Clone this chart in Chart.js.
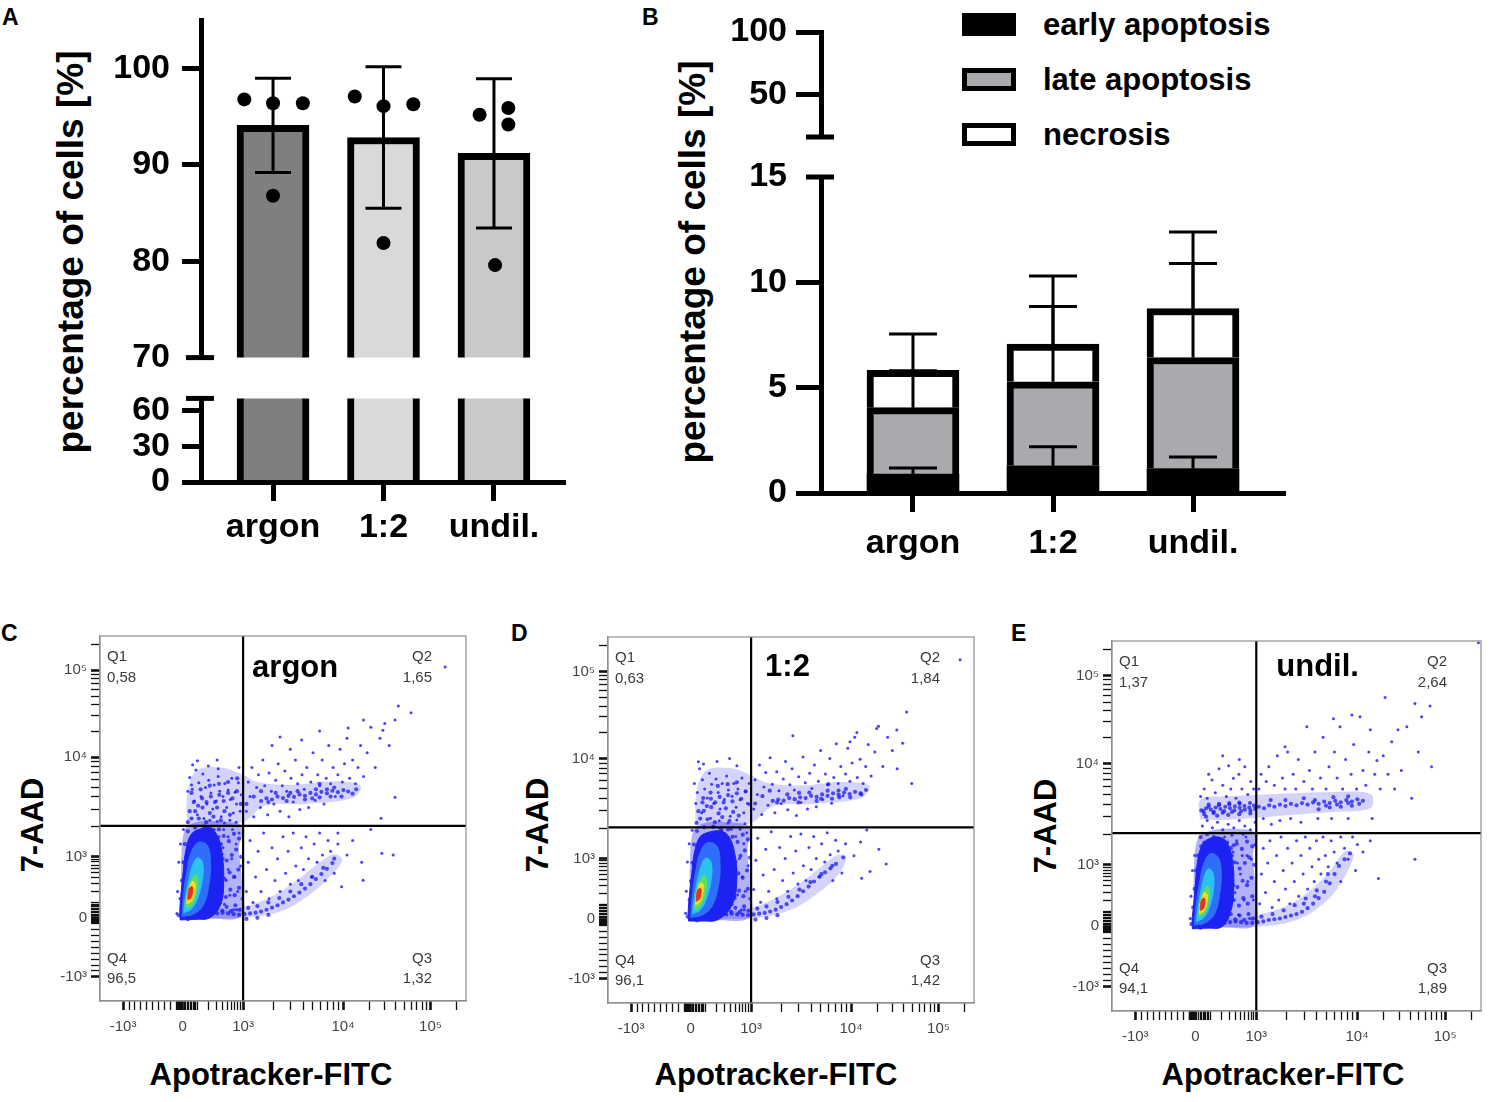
<!DOCTYPE html>
<html lang="en">
<head>
<meta charset="UTF-8">
<title>Viability, apoptosis and flow cytometry panels</title>
<script src="https://cdn.jsdelivr.net/npm/chart.js@4.4.1/dist/chart.umd.min.js"></script>
<style>
  html, body { margin: 0; padding: 0; background: #fff; }
  body { width: 1489px; height: 1102px; overflow: hidden; position: relative;
         font-family: 'Liberation Sans', Arial, Helvetica, sans-serif; }
  #figure { position: absolute; left: 0; top: 0; width: 1489px; height: 1102px; }
  canvas { position: absolute; }
  .lbl { position: absolute; white-space: nowrap; font-weight: bold; color: #000; line-height: 1; }
  .panel { font-size: 23px; }
  .ytitle { font-size: 37px; transform: translate(-50%, -50%) rotate(-90deg); }
  .ftitle { font-size: 31px; transform: translate(-50%, -50%); }
  .ftitle.rot { transform: translate(-50%, -50%) rotate(-90deg); }
  .legend-row { position: absolute; left: 962px; height: 23px; display: flex; align-items: center; }
  .swatch { width: 54px; height: 23px; box-sizing: border-box; border: 5px solid #000; }
  .legend-row span { margin-left: 27px; font-size: 31px; font-weight: bold; white-space: nowrap; }
</style>
</head>
<body>
<div id="figure">
  <!-- panel letters -->
  <div class="lbl panel" style="left:2px;top:6px">A</div>
  <div class="lbl panel" style="left:642px;top:6px">B</div>
  <div class="lbl panel" style="left:1px;top:622px">C</div>
  <div class="lbl panel" style="left:511px;top:622px">D</div>
  <div class="lbl panel" style="left:1011px;top:622px">E</div>

  <!-- axis titles of A and B -->
  <div class="lbl ytitle" style="left:70px;top:252px">percentage of cells [%]</div>
  <div class="lbl ytitle" style="left:692px;top:262px">percentage of cells [%]</div>

  <!-- legend of B -->
  <div class="legend-row" style="top:13px"><div class="swatch" style="background:#000"></div><span>early apoptosis</span></div>
  <div class="legend-row" style="top:68px"><div class="swatch" style="background:#aaaaae"></div><span>late apoptosis</span></div>
  <div class="legend-row" style="top:123px"><div class="swatch" style="background:#fff"></div><span>necrosis</span></div>

  <!-- axis titles of the flow plots -->
  <div class="lbl ftitle rot" style="left:32px;top:825px">7-AAD</div>
  <div class="lbl ftitle rot" style="left:537px;top:825px">7-AAD</div>
  <div class="lbl ftitle rot" style="left:1045px;top:826px">7-AAD</div>
  <div class="lbl ftitle" style="left:271px;top:1074px">Apotracker-FITC</div>
  <div class="lbl ftitle" style="left:776px;top:1074px">Apotracker-FITC</div>
  <div class="lbl ftitle" style="left:1283px;top:1074px">Apotracker-FITC</div>
</div>

<script>
// ---------- data ----------
const categories = ['argon', '1:2', 'undil.'];

// A: viable cells
const viableMean = [94.1, 92.85, 91.2];
const viableSD = [4.9, 7.35, 7.75];
const viableReplicates = [
  [96.8, 96.4, 96.4, 86.8],
  [97.1, 96.1, 96.3, 81.9],
  [95.2, 95.9, 94.2, 79.6]
];
const aTicksUpper = [70, 80, 90, 100];
const aTicksLower = [0, 30, 60];

// B: dead cell fractions
const earlyApoptosis = [0.9, 1.29, 1.16];
const earlySD = [0.29, 0.9, 0.55];
const lateApoptosis = [3.15, 3.99, 5.27];
const lateSD = [1.75, 3.57, 4.46];
const necrosis = [1.77, 1.79, 2.33];
const necrosisSD = [1.73, 3.23, 3.63];
const bTicksUpper = [50, 100];
const bTicksLower = [0, 5, 10, 15];

// C-E: flow plots, values in display units (0-1000) of the biexponential axes
const flowTickValues = [-1000, 0, 1000, 10000, 100000];
const flowTickLabels = ['-10³', '0', '10³', '10⁴', '10⁵'];
const quadrantsC = ['0,58', '1,65', '1,32', '96,5'];   // Q1, Q2, Q3, Q4
const quadrantsD = ['0,63', '1,84', '1,42', '96,1'];
const quadrantsE = ['1,37', '2,64', '1,89', '94,1'];
const gateC = [391, 480];
const gateD = [391, 480];
const gateE = [391, 481];

const cSparse = [
  [245,612],[252,580],[262,633],[270,598],[276,560],[281,622],[288,585],[292,540],[297,605],[303,570],[308,526],[312,592],
  [318,548],[323,615],[327,575],[331,505],[336,560],[341,596],[346,530],[350,578],[356,552],[360,610],[364,515],[369,572],
  [373,540],[378,598],[383,520],[386,565],[258,548],[266,510],[284,500],[300,495],[320,492],[340,488],[355,495],[372,490],
  [240,575],[253,647],[296,644],[323,636],[250,592],[266,658],[320,660],[380,640],
  [400,520],[405,600],[410,560],[415,640],[420,505],[428,585],[433,620],[438,530],[445,660],[450,590],[458,510],[462,625],
  [468,575],[475,540],[480,605],[487,650],[492,520],[498,590],[505,630],[510,575],[516,505],[522,610],[528,545],[534,660],
  [540,595],[546,525],[552,620],[558,580],[565,640],[570,530],[576,600],[582,680],[588,550],[595,620],[600,590],[607,660],
  [612,540],[618,610],[625,700],[630,595],[637,640],[643,560],[650,620],[656,690],[662,600],[668,650],[675,720],[682,610],
  [690,660],[698,595],[705,640],[712,700],[720,615],[730,680],[740,750],[752,640],[765,720],[778,760],[790,700],[806,770],
  [815,808],[470,700],[520,690],[551,715],[492,723],[600,740],[678,748],[720,770],[773,742],[768,501],[806,558],[943,915],
  [850,790],
  [400,300],[405,380],[410,440],[418,270],[425,340],[432,410],[440,300],[447,460],[455,360],[462,280],[470,420],[478,330],
  [485,390],[492,300],[500,450],[507,350],[514,410],[520,320],[528,460],[535,370],[542,330],[550,420],[556,360],[563,450],
  [570,390],[578,340],[585,430],[593,380],[600,460],[608,400],[615,330],[623,440],[630,410],[640,350],[650,430],[660,313],
  [675,400],[690,440],[719,331],[740,470],[770,405],[801,400],[715,380],[650,460],
  [300,250],[310,280],[315,330],[320,260],[328,300],[332,370],[336,420],[340,265],[345,330],[350,450],[355,290],[360,390],
  [365,250],[368,340],[372,430],[376,300],[380,460],[384,370],[388,280],[325,450],[312,470],[338,470],[300,380],[305,430],
  [320,400],[350,360],[362,470],[373,250],[210,240],[212,300],[215,380],[220,430],[228,470]
];
const cDense = [
  [440,548],[455,555],[470,552],[485,560],[500,556],[515,562],[530,559],[545,566],[560,562],[575,570],[590,566],[605,573],
  [620,569],[635,576],[650,572],[665,578],[678,574],[560,552],[590,580],[620,580],[600,558],[640,585],[540,575],[510,548],
  [480,570],[700,580],[400,540],[420,560],[440,575],[460,545],[520,570],[580,555],[660,560],[690,568],[600,595],[630,560],
  [260,520],[280,530],[300,515],[320,530],[340,520],[270,500],[290,490],[310,505],[330,495],[355,510],[250,500],[240,490],
  [245,520],[256,545],[268,535],[279,555],[291,545],[303,560],[314,545],[326,565],[338,548],[350,570],[362,555],[374,575],
  [385,540],[250,570],[275,580],[300,590],[325,595],[350,600],[375,610],
  [395,238],[410,240],[425,242],[440,245],[455,250],[470,256],[485,262],[500,270],[515,278],[530,287],[545,297],[560,308],
  [575,320],[590,334],[605,348],[620,362],[635,378],[380,236],[365,238],[350,240],[335,242],[320,240],[305,238],[290,236],
  [275,234],[405,255],[430,260],[460,270],[490,282],[520,300],[550,320],[580,340],[610,365],[640,390],[400,225],[430,228],
  [460,236],
  [310,250],[322,262],[334,248],[346,258],[358,246],[370,262],[382,250],[316,290],[330,300],[344,285],[356,305],[368,290],
  [380,310],[312,340],[326,350],[340,335],[354,352],[366,340],[378,360],[318,390],[332,402],[346,385],[360,400],[372,415],
  [322,440],[338,452],[352,438],[366,458],[380,445],[386,395],
  [215,235],[220,280],[224,330],[228,380],[232,430],[240,465],[260,475],[285,478],[305,470],[315,440],[318,400],[320,360],
  [316,310],[312,275],[300,245],[285,235],[262,228],[240,224],[330,430],[335,390],[325,470],[330,330],[328,270]
];
const cCloud = [[222,228],[300,226],[385,232],[388,330],[380,420],[390,478],[330,492],[262,490],[232,470],[222,380]];
const cBand = [[238,485],[300,480],[391,490],[450,535],[560,540],[690,556],[712,590],[640,602],[520,592],[430,600],[391,620],[330,640],[262,630],[238,560]];
const cArm = [[300,226],[420,230],[500,248],[560,282],[620,332],[662,385],[640,402],[590,372],[540,332],[480,292],[420,266],[360,252],[300,246]];
const cBlue = [[219,222],[260,224],[300,228],[330,265],[338,330],[334,400],[322,450],[300,475],[270,470],[248,455],[234,410],[227,350],[221,290],[218,245]];
const cAzure = [[224,232],[255,238],[282,262],[298,320],[302,380],[294,425],[270,435],[250,410],[238,360],[229,300]];
const cCyan = [[229,242],[250,252],[268,285],[280,335],[280,380],[266,392],[252,368],[240,320],[232,275]];
const cGreen = [[234,255],[250,262],[262,290],[268,328],[262,345],[250,332],[241,302]];
const cYellow = [[237,266],[250,273],[258,298],[260,322],[252,328],[244,310],[238,288]];
const cRed = [[240,278],[248,282],[253,298],[252,313],[245,310],[241,296]];

const dSparse = [
  [236,600],[244,575],[250,640],[258,610],[264,585],[271,560],[277,628],[283,598],[289,545],[295,612],[301,575],[306,530],
  [312,600],[318,556],[324,620],[329,582],[334,510],[339,565],[344,600],[350,535],[355,585],[361,555],[366,615],[371,520],
  [376,578],[381,545],[386,600],[247,659],[261,653],[332,668],[298,660],[352,648],[240,545],[256,520],[280,505],[304,498],
  [328,492],[352,500],[374,490],
  [398,530],[402,610],[408,570],[414,650],[420,515],[426,590],[431,630],[437,540],[443,670],[449,598],[456,520],[461,632],
  [467,580],[473,545],[479,612],[485,660],[491,528],[497,596],[503,640],[509,582],[515,512],[521,618],[527,548],[533,672],
  [539,602],[545,530],[551,628],[557,586],[564,650],[569,536],[575,606],[581,690],[587,556],[594,626],[600,596],[606,668],
  [611,546],[617,616],[624,708],[629,600],[636,646],[642,566],[649,626],[655,696],[661,606],[667,656],[674,726],[681,616],
  [689,666],[697,600],[704,646],[711,706],[719,620],[729,686],[739,756],[751,646],[764,726],[777,690],[789,746],[805,710],
  [816,795],[505,730],[680,739],[734,750],[661,714],[962,938],[830,600],[790,640],
  [398,310],[404,390],[409,450],[417,275],[424,350],[431,420],[439,305],[446,468],[454,365],[461,285],[469,425],[477,335],
  [484,395],[491,305],[499,455],[506,355],[513,415],[519,325],[527,462],[534,375],[541,335],[549,425],[555,365],[562,455],
  [569,395],[577,345],[584,435],[592,385],[599,465],[607,405],[614,335],[622,445],[629,415],[639,355],[649,435],[716,359],
  [693,341],[707,473],[672,402],[690,440],[740,420],[760,380],
  [300,255],[308,285],[314,335],[320,262],[327,305],[331,375],[335,425],[339,270],[344,335],[349,455],[354,295],[359,395],
  [364,255],[367,345],[371,435],[375,305],[379,465],[383,375],[387,285],[324,455],[311,472],[337,475],[300,385],[304,435],
  [319,405],[349,365],[361,475],[372,255],[212,245],[214,305],[217,385],[222,435],[230,472]
];
const dDense = [
  [450,552],[465,556],[480,553],[495,560],[510,557],[525,562],[540,560],[555,566],[570,563],[585,570],[600,566],[615,573],
  [630,569],[645,575],[660,571],[675,577],[690,573],[570,552],[600,580],[630,580],[612,558],[650,585],[550,575],[520,548],
  [490,570],[705,582],[402,545],[422,565],[442,580],[462,548],[522,574],[582,558],[662,562],[692,570],[602,598],[632,562],
  [262,525],[282,535],[302,518],[322,532],[342,522],[272,502],[292,494],[312,508],[332,498],[357,512],[252,504],[242,492],
  [260,560],[280,575],[247,524],[258,548],[270,538],[281,558],[293,548],[305,563],[316,548],[328,568],[340,551],[352,573],
  [364,558],[376,578],[387,543],[300,593],[327,598],[352,603],
  [398,242],[413,244],[428,246],[443,250],[458,255],[473,262],[488,270],[503,280],[518,292],[533,305],[548,318],[563,332],
  [578,345],[593,357],[608,368],[623,380],[383,240],[368,241],[353,242],[338,244],[323,242],[308,240],[293,238],[278,236],
  [408,258],[433,264],[463,276],[493,290],[523,310],[553,330],[583,352],[613,375],[643,398],[403,228],[433,232],[463,240],
  [312,252],[324,264],[336,250],[348,260],[360,248],[372,264],[384,252],[318,292],[332,302],[346,287],[358,307],[370,292],
  [382,312],[314,342],[328,352],[342,337],[356,354],[368,342],[380,362],[320,392],[334,404],[348,387],[362,402],[374,417],
  [324,442],[340,454],[354,440],[368,460],[382,447],[388,397],
  [218,236],[223,282],[227,333],[231,383],[235,433],[243,470],[263,480],[288,482],[308,474],[318,444],[321,404],[323,364],
  [319,314],[315,278],[303,248],[288,238],[265,230],[243,226],[333,434],[338,394],[328,474],[333,334],[331,274]
];
const dCloud = [[224,228],[302,226],[386,234],[389,330],[381,420],[390,480],[332,494],[264,492],[234,472],[224,382]];
const dBand = [[240,488],[302,482],[391,492],[452,538],[562,544],[692,560],[714,594],[642,604],[522,594],[432,602],[391,622],[332,642],[264,632],[240,562]];
const dArm = [[302,228],[422,234],[502,256],[562,292],[622,342],[650,392],[630,405],[592,380],[542,340],[482,300],[422,270],[362,254],[302,248]];
const dBlue = [[220,224],[260,224],[301,228],[340,270],[352,336],[346,410],[330,455],[307,470],[270,465],[250,452],[236,410],[229,355],[222,290],[219,246]];
const dAzure = [[226,234],[256,240],[284,264],[302,322],[306,384],[298,428],[272,438],[252,412],[240,362],[231,302]];
const dCyan = [[231,244],[252,254],[270,288],[282,338],[282,384],[268,396],[254,372],[242,324],[234,278]];
const dGreen = [[236,256],[252,264],[264,292],[270,330],[264,348],[252,334],[243,304]];
const dYellow = [[239,268],[251,275],[259,299],[261,322],[253,328],[245,311],[240,289]];
const dRed = [[241,278],[249,283],[254,298],[253,313],[246,310],[242,296]];

const eSparse = [
  [250,600],[262,640],[271,624],[280,590],[290,655],[300,610],[310,580],[316,663],[322,600],[329,629],[336,575],[344,640],
  [352,600],[360,660],[368,585],[376,620],[384,600],[240,580],[258,575],[345,680],[300,690],
  [245,500],[258,515],[272,495],[286,510],[300,490],[315,505],[330,495],[345,515],[360,500],[375,490],[388,510],
  [398,600],[404,640],[410,520],[418,620],[425,660],[432,505],[440,610],[448,690],[455,515],[462,630],[469,600],[476,700],
  [484,520],[491,640],[469,714],[498,600],[505,680],[512,510],[520,620],[528,768],[535,650],[543,600],[550,700],[558,520],
  [565,630],[572,740],[580,600],[588,660],[595,520],[603,700],[610,630],[618,768],[625,600],[633,680],[640,520],[648,640],
  [655,720],[663,600],[672,795],[680,650],[688,610],[696,700],[705,520],[712,640],[718,677],[727,600],[735,690],[740,847],
  [748,640],[758,728],[766,600],[775,760],[784,650],[799,768],[812,575],[821,831],[839,795],[862,824],[866,660],[993,995],
  [830,700],[700,760],[650,800],[600,790],
  [400,290],[405,370],[410,440],[416,320],[422,400],[428,460],[434,280],[440,350],[446,420],[452,300],[458,470],[464,380],
  [470,330],[476,440],[482,290],[488,400],[494,350],[500,460],[506,310],[512,420],[518,370],[524,470],[530,330],[536,440],
  [542,390],[548,350],[554,460],[560,410],[566,370],[572,470],[578,420],[586,390],[594,460],[602,430],[610,400],[620,470],
  [630,440],[640,410],[652,470],[665,450],[680,430],[700,460],[722,358],[821,410],[660,380],[620,350],
  [300,250],[306,300],[312,350],[318,400],[322,280],[328,430],[333,320],[338,460],[343,260],[348,370],[353,420],[358,300],
  [363,470],[368,350],[373,250],[378,410],[383,300],[388,450],[296,440],[305,470],[325,475],[355,478],[314,260],[340,400],
  [366,420],[212,250],[214,310],[218,380],[224,420]
];
const eDense = [
  [242,542],[255,548],[268,544],[281,550],[294,546],[307,552],[320,548],[333,553],[346,549],[359,554],[372,550],[385,555],
  [250,532],[275,535],[300,536],[325,538],[350,540],[375,542],[262,558],[290,560],[318,562],[345,563],
  [248,540],[262,552],[276,538],[290,556],[304,540],[318,558],[332,542],[346,560],[360,544],[374,562],[388,546],[255,525],
  [285,528],[315,530],[345,532],[375,534],
  [398,552],[412,548],[426,556],[440,552],[455,558],[470,554],[485,560],[500,556],[515,562],[530,558],[545,564],[560,560],
  [575,566],[590,562],[605,568],[620,564],[635,570],[650,566],[665,572],[680,568],[560,545],[590,550],[620,552],[650,555],
  [600,578],[640,580],[520,575],[470,570],[430,570],[580,555],[610,558],[640,562],[670,560],[550,570],
  [240,470],[258,478],[276,470],[294,462],[312,455],[330,448],[250,455],[270,445],[305,435],[325,420],
  [395,240],[410,242],[425,246],[440,248],[455,250],[470,254],[485,258],[500,262],[515,268],[530,278],[545,290],[560,305],
  [575,322],[590,345],[603,370],[615,392],[630,410],[645,426],[380,238],[365,238],[350,240],[335,242],[320,240],[305,238],
  [290,236],[275,234],[520,290],[550,310],[580,350],[405,255],[435,262],[465,272],[495,286],[525,304],[555,326],[585,370],
  [310,250],[322,262],[334,248],[346,258],[358,246],[370,262],[382,250],[316,290],[330,300],[344,285],[356,305],[368,290],
  [380,310],[312,340],[326,350],[340,335],[354,352],[366,340],[378,360],[318,390],[332,402],[346,385],[360,400],[372,415],
  [322,440],[338,452],[352,438],[366,458],[380,445],[386,395],
  [215,235],[220,280],[224,330],[228,380],[233,420],[242,445],[262,452],[285,450],[302,438],[311,400],[313,360],[311,310],
  [307,275],[296,245],[282,236],[260,228],[240,225],[322,380],[328,340],[325,300]
];
const eCloud = [[222,228],[300,226],[386,232],[389,330],[382,420],[390,480],[330,492],[262,486],[232,465],[222,380]];
const eBand = [[238,518],[300,516],[391,522],[480,530],[600,538],[700,548],[702,586],[600,592],[480,588],[391,584],[300,580],[240,572]];
const eArm = [[300,226],[420,230],[500,246],[560,280],[610,330],[655,420],[632,432],[592,380],[545,332],[485,290],[420,266],[360,252],[300,246]];
const eBlue = [[218,222],[258,224],[298,228],[322,270],[330,340],[326,410],[312,455],[290,470],[262,465],[244,448],[232,405],[226,345],[221,285],[217,245]];
const eAzure = [[223,232],[252,238],[278,262],[292,318],[296,372],[288,415],[266,425],[248,395],[237,345],[228,290]];
const eCyan = [[229,242],[249,252],[265,283],[275,330],[274,372],[261,384],[249,360],[239,314],[232,272]];
const eGreen = [[234,254],[249,262],[260,288],[265,322],[259,338],[248,322],[240,296]];
const eYellow = [[237,263],[249,270],[257,292],[258,314],[250,320],[243,303],[238,283]];
const eRed = [[239,272],[247,276],[252,292],[250,305],[244,302],[240,288]];

// ---------- layout and style ----------
const FONT = "'Liberation Sans', Arial, Helvetica, sans-serif";
Chart.defaults.font.family = FONT;
Chart.defaults.color = '#000';
Chart.defaults.animation = false;
Chart.defaults.events = [];
Chart.defaults.plugins.legend.display = false;
Chart.defaults.plugins.tooltip.enabled = false;

const aBarColors = ['#7f7f7f', '#d9d9da', '#c9c9c9'];
const aJitter = [[-0.26, 0, 0.27, 0], [-0.26, 0, 0.27, 0], [-0.13, 0.13, 0.13, 0.01]];
const densityColors = ['#1c22f2', '#2e6ef9', '#2cc2f0', '#5cdf5e', '#f3dc25', '#e83220'];
// cloud next to the main population, upper band, lower arm
const hazeColors = ['rgba(30, 30, 240, 0.34)', 'rgba(35, 35, 245, 0.2)', 'rgba(35, 35, 245, 0.2)'];

const fig = document.getElementById('figure');

// place a canvas so that its chart area lands on "area" (page pixels)
function mount(area, m) {
  const c = document.createElement('canvas');
  const w = area.r - area.l + m.l + m.r;
  const h = area.b - area.t + m.t + m.b;
  c.width = w; c.height = h;
  c.style.left = (area.l - m.l) + 'px';
  c.style.top = (area.t - m.t) + 'px';
  c.style.width = w + 'px';
  c.style.height = h + 'px';
  fig.appendChild(c);
  return c;
}

function errorBarPlugin(bars, capWidth, lineWidth) {
  return {
    id: 'errorBars',
    afterDatasetsDraw(chart) {
      const {ctx, chartArea: a, scales: {x, y}} = chart;
      ctx.save();
      ctx.beginPath();
      ctx.rect(a.left, a.top, a.right - a.left, a.bottom - a.top);
      ctx.clip();
      ctx.strokeStyle = '#000';
      ctx.lineWidth = lineWidth;
      bars.forEach(b => {
        const px = x.getPixelForValue(b.x);
        ctx.beginPath();
        ctx.moveTo(px, y.getPixelForValue(b.lo));
        ctx.lineTo(px, y.getPixelForValue(b.hi));
        b.caps.forEach(v => {
          const py = y.getPixelForValue(v);
          ctx.moveTo(px - capWidth / 2, py);
          ctx.lineTo(px + capWidth / 2, py);
        });
        ctx.stroke();
      });
      ctx.restore();
    }
  };
}

// short bars across the axis where it is broken
function capPlugin(values, left, right) {
  return {
    id: 'axisCaps',
    afterDraw(chart) {
      const {ctx, chartArea: a, scales: {y}} = chart;
      ctx.save();
      ctx.strokeStyle = '#000';
      ctx.lineWidth = 5;
      values.forEach(v => {
        const py = y.getPixelForValue(v);
        ctx.beginPath();
        ctx.moveTo(a.left - left, py);
        ctx.lineTo(a.left + right, py);
        ctx.stroke();
      });
      ctx.restore();
    }
  };
}

function barChart(cfg) {
  const m = cfg.margin;
  const canvas = mount(cfg.area, m);
  return new Chart(canvas, {
    type: 'bar',
    data: {datasets: cfg.datasets},
    options: {
      responsive: false,
      layout: {padding: {left: 0, top: m.t, right: m.r, bottom: cfg.showX ? 0 : m.b}},
      scales: {
        x: {
          type: 'linear', min: cfg.xMin, max: cfg.xMax, offset: false, stacked: cfg.stacked,
          display: cfg.showX,
          afterBuildTicks: ax => { ax.ticks = categories.map((c, i) => ({value: i})); },
          ticks: {callback: (v, i) => categories[i], color: '#000', autoSkip: false, maxRotation: 0,
                  font: {size: 34, weight: 'bold'}, padding: cfg.xPad},
          grid: {drawOnChartArea: false, offset: false, tickLength: 19, tickWidth: 5, tickColor: '#000'},
          border: {color: '#000', width: 5, z: 1},
          afterFit: s => { s.height = cfg.showX ? m.b : 0; }
        },
        y: {
          min: cfg.yMin, max: cfg.yMax, stacked: cfg.stacked,
          afterBuildTicks: ax => { ax.ticks = cfg.yTicks.map(v => ({value: v})); },
          ticks: {color: '#000', font: {size: 34, weight: 'bold'}, padding: cfg.yPad, autoSkip: false},
          grid: {drawOnChartArea: false, tickLength: cfg.tickLen, tickWidth: 5,
                 tickColor: c => (c.tick && cfg.hideTicks.includes(c.tick.value)) ? 'rgba(0,0,0,0)' : '#000'},
          border: {color: '#000', width: 5, z: 1},
          afterFit: s => { s.width = m.l; }
        }
      }
    },
    plugins: [errorBarPlugin(cfg.errors, cfg.capWidth, 3), capPlugin(cfg.caps, 15, 13)]
  });
}

// ---------- panel A ----------
function viabilityDatasets() {
  return [
    {type: 'bar', data: viableMean.map((v, i) => ({x: i, y: v})), backgroundColor: aBarColors,
     borderColor: '#000', borderWidth: 7, barThickness: 72, clip: 0, order: 2},
    {type: 'scatter', data: viableReplicates.flatMap((vals, i) => vals.map((v, j) => ({x: i + aJitter[i][j], y: v}))),
     pointRadius: 7, pointBackgroundColor: '#000', pointBorderWidth: 0, clip: 0, order: 1}
  ];
}
const aErrors = viableMean.map((v, i) => ({x: i, lo: v - viableSD[i], hi: v + viableSD[i],
                                           caps: [v - viableSD[i], v + viableSD[i]]}));
const aCommon = {xMin: -0.652, xMax: 2.643, stacked: false, errors: aErrors, capWidth: 36,
                 tickLen: 19, yPad: 12, xPad: 6};
barChart(Object.assign({}, aCommon, {
  area: {l: 201, t: 20, r: 565, b: 358}, margin: {l: 101, t: 32, r: 10, b: 32},
  datasets: viabilityDatasets(), showX: false, yMin: 70, yMax: 105, yTicks: aTicksUpper,
  hideTicks: [70], caps: [70]
}));
barChart(Object.assign({}, aCommon, {
  area: {l: 201, t: 398, r: 565, b: 482}, margin: {l: 101, t: 32, r: 10, b: 78},
  datasets: viabilityDatasets(), showX: true, yMin: 0, yMax: 70, yTicks: aTicksLower,
  hideTicks: [], caps: [70]
}));

// ---------- panel B ----------
function apoptosisDatasets() {
  const seg = {type: 'bar', borderColor: '#000', borderSkipped: false, barThickness: 92, clip: 0, stack: 'cells'};
  const side = {top: 7, left: 7, right: 7, bottom: 0};
  return [
    Object.assign({}, seg, {label: 'early apoptosis', data: earlyApoptosis.map((v, i) => ({x: i, y: v})),
                            backgroundColor: '#000', borderWidth: 0}),
    Object.assign({}, seg, {label: 'late apoptosis', data: lateApoptosis.map((v, i) => ({x: i, y: v})),
                            backgroundColor: '#aaaaae', borderWidth: side}),
    Object.assign({}, seg, {label: 'necrosis', data: necrosis.map((v, i) => ({x: i, y: v})),
                            backgroundColor: '#ffffff', borderWidth: side})
  ];
}
const bErrors = [];
categories.forEach((c, i) => {
  const t1 = earlyApoptosis[i], t2 = t1 + lateApoptosis[i], t3 = t2 + necrosis[i];
  bErrors.push({x: i, lo: t1, hi: t1 + earlySD[i], caps: [t1 + earlySD[i]]});
  bErrors.push({x: i, lo: t2, hi: t2 + lateSD[i], caps: [t2 + lateSD[i]]});
  bErrors.push({x: i, lo: t3, hi: t3 + necrosisSD[i], caps: [t3 + necrosisSD[i]]});
});
const bCommon = {xMin: -0.657, xMax: 2.657, stacked: true, errors: bErrors, capWidth: 48,
                 tickLen: 25, yPad: 9, xPad: 11};
barChart(Object.assign({}, bCommon, {
  area: {l: 821, t: 32, r: 1285, b: 137}, margin: {l: 100, t: 32, r: 10, b: 32},
  datasets: apoptosisDatasets(), showX: false, yMin: 15.5, yMax: 100, yTicks: bTicksUpper,
  hideTicks: [], caps: [15.5]
}));
barChart(Object.assign({}, bCommon, {
  area: {l: 821, t: 177, r: 1285, b: 493}, margin: {l: 100, t: 32, r: 10, b: 70},
  datasets: apoptosisDatasets(), showX: true, yMin: 0, yMax: 15, yTicks: bTicksLower,
  hideTicks: [15], caps: [15]
}));

// ---------- panels C-E ----------
// display position of the major ticks (-10^3, 0, 10^3, 10^4, 10^5) on each axis
const flowXMajor = [63, 226, 391, 664, 903];
const flowYMajor = [66, 229, 395, 668, 906];

function toUnits(v, M) {
  const [n3, z, p3, p4, p5] = M;
  if (v <= 0) return z + (z - n3) * v / 1000;
  if (v <= 1000) return z + (p3 - z) * Math.asinh(v / 150) / Math.asinh(1000 / 150);
  if (v <= 10000) return p3 + (p4 - p3) * Math.log10(v / 1000);
  return p4 + (p5 - p4) * Math.log10(v / 10000);
}
function tickDefs(M) {
  const defs = flowTickValues.map((v, i) => ({u: M[i], label: flowTickLabels[i], major: true}));
  const minor = [];
  for (let v = -900; v <= -100; v += 100) minor.push(v);
  for (let v = -90; v <= 90; v += 10) if (v !== 0) minor.push(v);
  for (let v = 100; v <= 900; v += 100) minor.push(v);
  for (let d = 1000; d <= 100000; d *= 10) for (let k = 2; k <= 9; k++) minor.push(k * d);
  minor.forEach(v => {
    const u = toUnits(v, M);
    if (u > 0 && u < 1000) defs.push({u, label: '', major: false});
  });
  return defs.sort((a, b) => a.u - b.u);
}

const toXY = pts => pts.map(p => ({x: p[0], y: p[1]}));

function flowAxis(defs, fit, pad) {
  return {
    type: 'linear', min: 0, max: 1000,
    afterBuildTicks: ax => { ax.ticks = defs.map(d => ({value: d.u})); },
    ticks: {autoSkip: false, maxRotation: 0, minRotation: 0, padding: pad, color: '#444', font: {size: 15},
            callback: (v, i) => defs[i] ? defs[i].label : ''},
    grid: {drawOnChartArea: false, tickLength: 9, tickColor: '#111',
           tickWidth: c => (defs[c.index] && defs[c.index].major) ? 2.6 : 1.3},
    border: {display: true, color: '#8f8f8f', width: 1.2},
    afterFit: fit
  };
}

function flowChart(area, sparse, dense, hazes, layers, gate, quadrants, sample, titlePos) {
  const m = {l: 62, t: 18, r: 14, b: 40};
  const canvas = mount(area, m);
  const xDefs = tickDefs(flowXMajor);
  const yDefs = tickDefs(flowYMajor);
  const datasets = [
    {data: toXY([[gate[0], 0], [gate[0], 1000]]), showLine: true, borderColor: '#000', borderWidth: 2.2,
     pointRadius: 0, order: 0},
    {data: toXY([[0, gate[1]], [1000, gate[1]]]), showLine: true, borderColor: '#000', borderWidth: 2.2,
     pointRadius: 0, order: 0}
  ];
  layers.forEach((pts, k) => {
    datasets.push({data: toXY(pts.concat([pts[0]])), showLine: true, fill: 'shape', tension: 0.4,
                   backgroundColor: densityColors[k], borderColor: densityColors[k], borderWidth: 1,
                   pointRadius: 0, order: 6 - k});
  });
  datasets.push({data: toXY(dense), pointRadius: 2.1, pointBackgroundColor: 'rgba(22,22,235,0.72)',
                 pointBorderWidth: 0, order: 7});
  datasets.push({data: toXY(sparse), pointRadius: 1.5, pointBackgroundColor: 'rgba(45,45,255,0.9)',
                 pointBorderWidth: 0, order: 8});
  hazes.forEach((pts, k) => {
    datasets.push({data: toXY(pts.concat([pts[0]])), showLine: true, fill: 'shape', tension: 0.35,
                   backgroundColor: hazeColors[k], borderColor: 'rgba(0,0,0,0)', borderWidth: 1,
                   pointRadius: 0, order: 9});
  });

  return new Chart(canvas, {
    type: 'scatter',
    data: {datasets},
    options: {
      responsive: false,
      layout: {padding: {left: 0, top: m.t, right: m.r, bottom: 0}},
      scales: {
        x: flowAxis(xDefs, s => { s.height = m.b; }, 8),
        y: flowAxis(yDefs, s => { s.width = m.l; }, 4)
      }
    },
    plugins: [{
      id: 'quadrantText',
      afterDraw(chart) {
        const {ctx, chartArea: a, scales: {x}} = chart;
        ctx.save();
        ctx.strokeStyle = '#8f8f8f';
        ctx.lineWidth = 1.2;
        ctx.strokeRect(a.left, a.top, a.right - a.left, a.bottom - a.top);
        ctx.fillStyle = '#3a3a3a';
        ctx.font = '15px ' + FONT;
        ctx.textBaseline = 'middle';
        ctx.textAlign = 'left';
        ctx.fillText('Q1', a.left + 7, a.top + 21);
        ctx.fillText(quadrants[0], a.left + 7, a.top + 42);
        ctx.fillText('Q4', a.left + 7, a.bottom - 42);
        ctx.fillText(quadrants[3], a.left + 7, a.bottom - 22);
        ctx.textAlign = 'right';
        ctx.fillText('Q2', a.right - 34, a.top + 21);
        ctx.fillText(quadrants[1], a.right - 34, a.top + 42);
        ctx.fillText('Q3', a.right - 34, a.bottom - 42);
        ctx.fillText(quadrants[2], a.right - 34, a.bottom - 22);
        ctx.fillStyle = '#000';
        ctx.font = 'bold 31px ' + FONT;
        ctx.textAlign = 'left';
        ctx.fillText(sample, x.getPixelForValue(gate[0]) + titlePos[0], a.top + titlePos[1]);
        ctx.restore();
      }
    }]
  });
}

flowChart({l: 100, t: 636, r: 466, b: 1001}, cSparse, cDense, [cCloud, cBand, cArm],
          [cBlue, cAzure, cCyan, cGreen, cYellow, cRed], gateC, quadrantsC, categories[0], [9, 32]);
flowChart({l: 608, t: 637, r: 974, b: 1003}, dSparse, dDense, [dCloud, dBand, dArm],
          [dBlue, dAzure, dCyan, dGreen, dYellow, dRed], gateD, quadrantsD, categories[1], [14, 30]);
flowChart({l: 1112, t: 641, r: 1481, b: 1011}, eSparse, eDense, [eCloud, eBand, eArm],
          [eBlue, eAzure, eCyan, eGreen, eYellow, eRed], gateE, quadrantsE, categories[2], [20, 26]);
</script>
</body>
</html>
